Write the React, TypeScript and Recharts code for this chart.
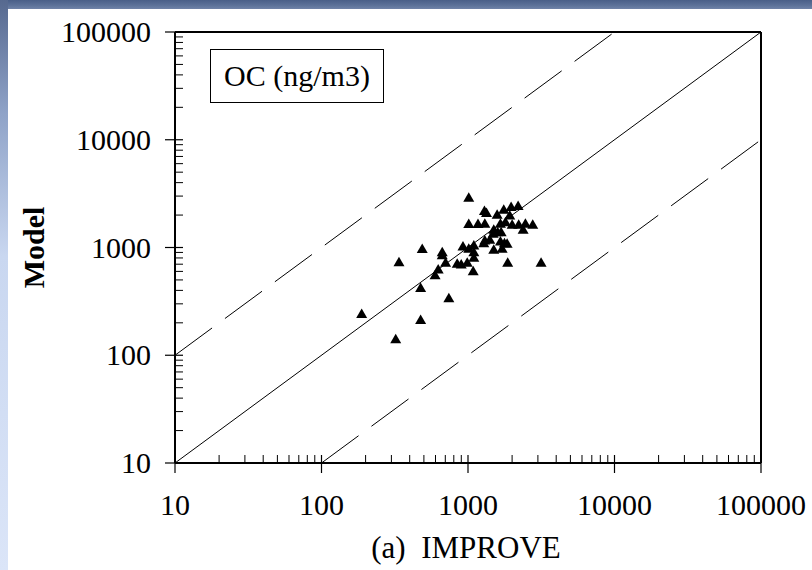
import React from 'react';
import { ScatterChart, Scatter, XAxis, YAxis, ReferenceLine } from 'recharts';

// IMPROVE observations (x) and Model values (y), ng/m3
const improve = [188, 321, 338, 475, 475, 487, 596, 626, 667, 667, 703, 740, 844, 899, 924, 988, 1012, 1012, 1012, 1085, 1096, 1096, 1096, 1170, 1295, 1337, 1303, 1282, 1303, 1408, 1485, 1499, 1499, 1581, 1596, 1665, 1665, 1683, 1710, 1754, 1774, 1802, 1849, 1866, 1927, 1969, 2001, 2198, 2218, 2378, 2465, 2766, 3154];
const model = [241, 141, 730, 420, 212, 968, 553, 624, 904, 848, 721, 338, 705, 695, 1021, 721, 2898, 1655, 972, 602, 1044, 904, 802, 1655, 2177, 2094, 1661, 1097, 1161, 1180, 1340, 1461, 952, 2014, 1388, 1661, 1137, 1388, 972, 2243, 1097, 1719, 1082, 721, 1986, 2371, 1626, 2421, 1626, 1461, 1661, 1626, 721];

const majorTicks = [10, 100, 1000, 10000, 100000];
const tickLabels = ['10', '100', '1000', '10000', '100000'];
const minorSteps = [2, 3, 4, 5, 6, 7, 8, 9];

const xTitle = '(a)  IMPROVE';
const yTitle = 'Model';
const boxLabel = 'OC (ng/m3)';

// 1:1 line and factor-of-10 lines
const oneToOne = [{ x: 10, y: 10 }, { x: 100000, y: 100000 }];
const upperTen = [{ x: 10, y: 100 }, { x: 10000, y: 100000 }];
const lowerTen = [{ x: 100, y: 10 }, { x: 100000, y: 10000 }];

const data = improve.map((x, i) => ({ x, y: model[i] }));
const allTicks = majorTicks.flatMap((m, i) =>
  i < majorTicks.length - 1 ? [m, ...minorSteps.map((s) => m * s)] : [m]
);

const FONT = '"Liberation Serif", "Times New Roman", serif';

const XTick = (p: any) => {
  const { x, y, payload } = p;
  const idx = majorTicks.indexOf(payload.value);
  if (idx < 0) {
    return <line x1={x} y1={y} x2={x} y2={y - 8} stroke="#000" strokeWidth={1} />;
  }
  return (
    <g>
      <line x1={x} y1={y - 8} x2={x} y2={y + 10} stroke="#000" strokeWidth={1.2} />
      <text x={x} y={y + 52} textAnchor="middle" fontSize={30} fontFamily={FONT} fill="#000">
        {tickLabels[idx]}
      </text>
    </g>
  );
};

const YTick = (p: any) => {
  const { x, y, payload } = p;
  const idx = majorTicks.indexOf(payload.value);
  if (idx < 0) {
    return <line x1={x} y1={y} x2={x + 8} y2={y} stroke="#000" strokeWidth={1} />;
  }
  return (
    <g>
      <line x1={x - 10} y1={y} x2={x + 8} y2={y} stroke="#000" strokeWidth={1.2} />
      <text x={x - 24} y={y + 10} textAnchor="end" fontSize={30} fontFamily={FONT} fill="#000">
        {tickLabels[idx]}
      </text>
    </g>
  );
};

const Tri = (p: any) => {
  const { cx, cy } = p;
  if (cx == null || cy == null) return null;
  return (
    <polygon
      points={`${cx},${cy - 5.5} ${cx - 5.5},${cy + 4} ${cx + 5.5},${cy + 4}`}
      fill="#000"
    />
  );
};

export default function App() {
  return (
    <div style={{ position: 'absolute', left: 0, top: 0, width: 812, height: 570, background: '#fff', overflow: 'hidden' }}>
      <div style={{ position: 'absolute', left: 0, top: 0, width: 812, height: 9, background: 'linear-gradient(180deg, #4a5f88 0%, #5d7299 60%, #7083a8 100%)' }} />
      <div style={{ position: 'absolute', left: 0, top: 0, width: 8, height: 570, background: 'linear-gradient(180deg, #56698f 0%, #8fa3c8 20%, #c9d7f0 45%, #dbe5f8 100%)' }} />
      <div style={{ position: 'absolute', left: 0, top: 0 }}>
        <ScatterChart width={812} height={570} margin={{ top: 32, right: 51, bottom: 0, left: 0 }}>
          <XAxis
            type="number"
            dataKey="x"
            scale="log"
            domain={[10, 100000]}
            allowDataOverflow
            ticks={allTicks}
            interval={0}
            tick={<XTick />}
            tickLine={false}
            tickSize={0}
            tickMargin={0}
            height={107}
            axisLine={{ stroke: '#000', strokeWidth: 2 }}
            label={{
              value: xTitle,
              content: (props: any) => {
                const vb = props.viewBox;
                return (
                  <text x={vb.x + vb.width / 2 - 2} y={vb.y + 95} textAnchor="middle" fontSize={31} fontFamily={FONT} fill="#000" style={{ whiteSpace: 'pre' }}>
                    {xTitle}
                  </text>
                );
              },
            }}
          />
          <YAxis
            type="number"
            dataKey="y"
            scale="log"
            domain={[10, 100000]}
            allowDataOverflow
            ticks={allTicks}
            interval={0}
            tick={<YTick />}
            tickLine={false}
            tickSize={0}
            tickMargin={0}
            width={175}
            axisLine={{ stroke: '#000', strokeWidth: 2 }}
            label={{
              value: yTitle,
              content: (props: any) => {
                const vb = props.viewBox;
                const cy = vb.y + vb.height / 2;
                return (
                  <text x={44} y={cy} transform={`rotate(-90, 44, ${cy})`} textAnchor="middle" fontSize={30} fontWeight="bold" fontFamily={FONT} fill="#000">
                    {yTitle}
                  </text>
                );
              },
            }}
          />
          <ReferenceLine y={100000} stroke="#000" strokeWidth={2} />
          <ReferenceLine x={100000} stroke="#000" strokeWidth={2} />
          <ReferenceLine segment={oneToOne} stroke="#000" strokeWidth={1} />
          <ReferenceLine segment={upperTen} stroke="#000" strokeWidth={1} strokeDasharray="46 16" />
          <ReferenceLine segment={lowerTen} stroke="#000" strokeWidth={1} strokeDasharray="46 16" />
          <Scatter data={data} fill="#000" shape={<Tri />} isAnimationActive={false} />
        </ScatterChart>
      </div>
      <div
        style={{
          position: 'absolute', left: 210, top: 49, width: 174, height: 54, boxSizing: 'border-box',
          border: '1px solid #000', background: '#fff', display: 'flex', alignItems: 'center', justifyContent: 'center',
          fontFamily: FONT, fontSize: 30, color: '#000', whiteSpace: 'nowrap',
        }}
      >
        {boxLabel}
      </div>
    </div>
  );
}
